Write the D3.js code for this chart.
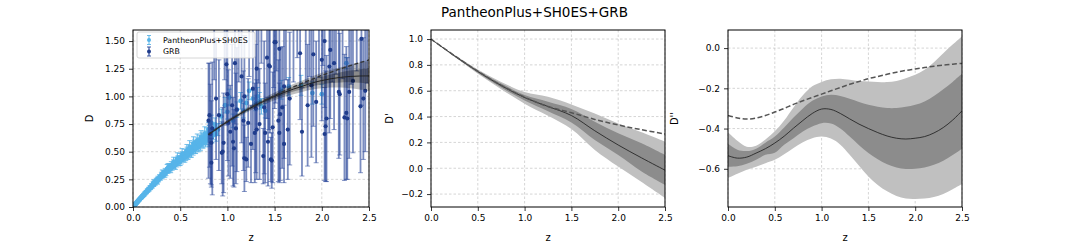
<!DOCTYPE html>
<html>
<head>
<meta charset="utf-8">
<script src="https://cdn.jsdelivr.net/npm/d3@7"></script>
<style>
  body { margin: 0; background: #fff; }
  svg { display: block; font-family: "DejaVu Sans", sans-serif; }
  .grid line { stroke: #b8b8b8; stroke-width: 0.6; stroke-dasharray: 2.5,2; }
</style>
</head>
<body>
<svg id="chart" width="1069" height="247"></svg>
<script>
// ---- Pantheon+ & SH0ES points (z, D, error)
const pantheonZ = [
  0.010,0.012,0.015,0.018,0.020,0.023,0.025,0.028,0.030,0.033,
  0.036,0.040,0.043,0.047,0.050,0.054,0.058,0.062,0.066,0.070,
  0.075,0.080,0.085,0.090,0.095,0.100,0.106,0.112,0.118,0.124,
  0.130,0.137,0.144,0.151,0.158,0.165,0.172,0.180,0.188,0.196,
  0.204,0.212,0.220,0.228,0.236,0.245,0.254,0.263,0.272,0.281,
  0.290,0.300,0.310,0.320,0.330,0.340,0.350,0.361,0.372,0.383,
  0.394,0.405,0.416,0.428,0.440,0.452,0.464,0.476,0.488,0.500,
  0.512,0.524,0.536,0.548,0.560,0.573,0.586,0.599,0.612,0.625,
  0.638,0.651,0.664,0.677,0.690,0.703,0.716,0.729,0.742,0.755,
  0.768,0.781,0.794,0.807,0.820,0.835,0.850,0.870,0.900,0.935,
  0.975,1.000,1.020,1.060,1.100,1.140,1.170,1.200,1.230,1.270,
  1.300,1.320,1.340,1.360,1.400,1.570,1.650,1.780,1.900,2.000,
  2.260,
  0.22,0.26,0.31,0.34,0.37,0.40,0.43,0.45,0.47,0.50,
  0.52,0.55,0.57,0.58,0.60,0.62,0.64,0.66,0.68,0.70,
  0.72,0.74,0.76,0.78,0.80,0.81,0.83,0.84,0.86,0.88];
const pantheonD = [
  0.010,0.013,0.014,0.019,0.021,0.022,0.027,0.026,0.031,0.034,
  0.033,0.041,0.045,0.044,0.052,0.051,0.060,0.059,0.068,0.066,
  0.076,0.081,0.080,0.091,0.089,0.101,0.099,0.112,0.109,0.124,
  0.122,0.137,0.133,0.150,0.146,0.163,0.158,0.178,0.172,0.194,
  0.186,0.210,0.203,0.226,0.214,0.240,0.231,0.257,0.247,0.271,
  0.262,0.290,0.276,0.306,0.293,0.322,0.309,0.344,0.331,0.362,
  0.344,0.379,0.360,0.394,0.374,0.411,0.392,0.428,0.405,0.447,
  0.421,0.462,0.441,0.482,0.455,0.500,0.470,0.519,0.486,0.540,
  0.508,0.560,0.523,0.578,0.540,0.602,0.556,0.620,0.575,0.636,
  0.590,0.664,0.612,0.682,0.630,0.700,0.662,0.745,0.700,0.820,
  0.920,0.860,0.990,0.780,0.880,0.960,0.870,0.940,1.050,0.980,
  0.940,1.000,0.960,0.910,0.870,1.060,1.090,1.100,1.030,1.020,
  1.300,
  0.215,0.236,0.300,0.300,0.352,0.345,0.405,0.380,0.440,0.420,
  0.478,0.450,0.510,0.480,0.540,0.500,0.575,0.540,0.600,0.560,
  0.630,0.600,0.660,0.620,0.700,0.600,0.760,0.640,0.700,0.660];
const pantheonErr = [
  0.004,0.004,0.005,0.005,0.005,0.005,0.006,0.005,0.006,0.006,
  0.006,0.006,0.007,0.006,0.007,0.007,0.008,0.007,0.008,0.008,
  0.008,0.009,0.009,0.010,0.009,0.010,0.011,0.011,0.012,0.012,
  0.012,0.013,0.013,0.014,0.013,0.015,0.014,0.016,0.015,0.017,
  0.016,0.018,0.017,0.019,0.018,0.020,0.019,0.021,0.020,0.022,
  0.021,0.024,0.022,0.025,0.023,0.027,0.025,0.040,0.026,0.030,
  0.027,0.031,0.028,0.032,0.029,0.034,0.030,0.035,0.031,0.037,
  0.032,0.038,0.034,0.040,0.035,0.041,0.036,0.042,0.037,0.044,
  0.039,0.045,0.040,0.047,0.042,0.048,0.043,0.050,0.044,0.051,
  0.046,0.052,0.047,0.055,0.048,0.058,0.050,0.060,0.055,0.065,
  0.070,0.065,0.075,0.060,0.070,0.075,0.065,0.070,0.080,0.075,
  0.070,0.080,0.075,0.070,0.065,0.085,0.080,0.090,0.100,0.090,
  0.050,
  0.030,0.030,0.035,0.030,0.040,0.035,0.045,0.040,0.050,0.045,
  0.050,0.045,0.055,0.050,0.060,0.050,0.060,0.055,0.060,0.055,
  0.060,0.060,0.065,0.060,0.065,0.055,0.070,0.060,0.060,0.065];

// ---- GRB points (z, D, error)
const grbZ = [
  0.80,0.81,0.82,0.83,0.83,0.84,0.86,0.88,0.91,0.94,
  0.95,0.96,0.97,0.99,1.00,1.01,1.03,1.05,1.06,1.07,
  1.08,1.09,1.10,1.12,1.15,1.17,1.18,1.18,1.20,1.22,
  1.23,1.25,1.27,1.29,1.30,1.31,1.31,1.33,1.34,1.36,
  1.38,1.39,1.40,1.42,1.43,1.44,1.45,1.46,1.47,1.48,
  1.49,1.50,1.51,1.52,1.54,1.55,1.55,1.56,1.58,1.60,
  1.60,1.62,1.64,1.66,1.70,1.74,1.77,1.79,1.83,1.85,
  1.87,1.89,1.91,1.94,1.97,2.00,2.01,2.03,2.03,2.04,
  2.05,2.08,2.09,2.11,2.13,2.15,2.18,2.19,2.22,2.24,
  2.26,2.27,2.29,2.31,2.33,2.37,2.41,2.42,2.44,2.46,
  2.48];
const grbD = [
  0.78,0.83,0.66,0.58,0.40,0.71,1.70,0.98,0.83,0.49,
  0.50,0.58,1.75,1.29,1.02,0.76,0.68,0.92,0.59,0.53,
  1.30,0.71,0.88,1.68,1.18,0.78,1.00,0.44,0.43,0.76,
  1.80,0.57,1.07,0.67,0.89,1.25,0.70,1.72,0.75,1.90,
  0.46,0.90,0.67,1.35,0.59,1.28,1.27,0.43,0.42,0.72,
  1.66,1.49,1.49,1.85,0.78,1.43,0.67,0.84,0.90,1.09,
  0.57,1.75,0.70,0.98,1.68,1.95,1.39,0.68,1.70,0.92,
  1.78,1.10,1.38,0.95,1.72,1.33,1.90,1.50,0.66,0.73,
  0.80,1.27,1.42,1.68,1.30,1.80,1.04,1.02,1.74,0.81,
  0.85,0.80,1.04,1.66,1.14,1.85,0.91,1.52,0.98,1.05,
  1.70];
const grbErr = [
  0.52,0.47,0.45,0.38,0.22,0.60,0.55,0.55,0.50,0.28,
  0.40,0.45,0.60,0.55,0.60,0.48,0.42,0.55,0.40,0.35,
  0.55,0.50,0.56,0.55,0.60,0.45,0.55,0.30,0.20,0.40,
  0.62,0.35,0.55,0.45,0.58,0.55,0.45,0.60,0.50,0.60,
  0.25,0.60,0.45,0.55,0.40,0.58,0.60,0.20,0.25,0.50,
  0.58,0.60,0.55,0.62,0.55,0.60,0.45,0.60,0.55,0.65,
  0.35,0.60,0.45,0.60,0.55,0.60,0.60,0.40,0.58,0.55,
  0.60,0.65,0.65,0.55,0.55,0.55,0.62,0.60,0.42,0.50,
  0.57,0.60,0.62,0.55,0.60,0.60,0.60,0.55,0.58,0.57,
  0.60,0.55,0.60,0.55,0.65,0.62,0.60,0.60,0.55,0.55,
  0.58];

// ---- reconstruction of D(z), from z = 0.8
const dZ = [0.8,0.9,1.0,1.1,1.2,1.3,1.4,1.5,1.6,1.7,1.8,1.9,2.0,2.1,2.2,2.3,2.4,2.5];
const dMean = [0.655,0.715,0.772,0.825,0.874,0.920,0.962,1.000,1.035,1.066,1.093,1.122,1.143,1.160,1.172,1.180,1.184,1.185];
const dLcdm = [0.655,0.715,0.772,0.825,0.875,0.922,0.966,1.008,1.048,1.086,1.122,1.156,1.189,1.220,1.249,1.277,1.304,1.330];
const dSig1 = [0.005,0.006,0.008,0.009,0.011,0.013,0.015,0.017,0.020,0.023,0.026,0.030,0.035,0.040,0.046,0.053,0.061,0.070];
const dSig2 = [0.010,0.012,0.016,0.018,0.022,0.026,0.030,0.034,0.040,0.046,0.052,0.060,0.070,0.080,0.092,0.106,0.122,0.135];

// ---- D'(z)
const d1Z = [0,0.25,0.5,0.75,1.0,1.25,1.5,1.75,2.0,2.25,2.5];
const d1Mean = [1.0,0.870,0.748,0.640,0.547,0.478,0.408,0.290,0.180,0.080,-0.015];
const d1Lcdm = [1.0,0.872,0.751,0.642,0.550,0.478,0.430,0.378,0.335,0.298,0.265];
const d1Lo1 = [1.0,0.866,0.740,0.625,0.525,0.442,0.355,0.219,0.103,-0.025,-0.128];
const d1Hi1 = [1.0,0.874,0.756,0.655,0.566,0.514,0.458,0.360,0.270,0.193,0.103];
const d1Lo2 = [1.0,0.862,0.732,0.612,0.500,0.406,0.304,0.142,0.013,-0.107,-0.230];
const d1Hi2 = [1.0,0.878,0.764,0.668,0.590,0.553,0.494,0.424,0.347,0.278,0.206];

// ---- D''(z)
const d2Z = [0,0.1,0.2,0.3,0.4,0.5,0.6,0.7,0.8,0.9,1.0,1.1,1.2,1.3,1.4,1.5,1.6,1.7,1.8,1.9,2.0,2.1,2.2,2.3,2.4,2.5];
const d2Mean = [-0.535,-0.547,-0.542,-0.522,-0.500,-0.472,-0.438,-0.398,-0.360,-0.325,-0.303,-0.305,-0.325,-0.352,-0.378,-0.400,-0.420,-0.437,-0.448,-0.452,-0.448,-0.440,-0.422,-0.395,-0.358,-0.312];
const d2Lcdm = [-0.335,-0.347,-0.353,-0.348,-0.335,-0.318,-0.300,-0.280,-0.262,-0.245,-0.229,-0.212,-0.196,-0.180,-0.166,-0.152,-0.141,-0.130,-0.120,-0.111,-0.104,-0.097,-0.090,-0.085,-0.080,-0.076];
const d2Hi1 = [-0.476,-0.505,-0.512,-0.500,-0.470,-0.440,-0.395,-0.345,-0.300,-0.262,-0.240,-0.232,-0.238,-0.252,-0.268,-0.282,-0.292,-0.298,-0.298,-0.292,-0.282,-0.265,-0.238,-0.205,-0.168,-0.128];
const d2Lo1 = [-0.590,-0.588,-0.575,-0.555,-0.530,-0.520,-0.480,-0.448,-0.415,-0.390,-0.373,-0.375,-0.400,-0.440,-0.483,-0.522,-0.553,-0.578,-0.594,-0.601,-0.600,-0.594,-0.580,-0.560,-0.532,-0.500];
const d2Hi2 = [-0.418,-0.460,-0.490,-0.485,-0.455,-0.414,-0.360,-0.295,-0.235,-0.190,-0.168,-0.155,-0.152,-0.157,-0.163,-0.166,-0.168,-0.169,-0.163,-0.150,-0.133,-0.108,-0.070,-0.025,0.018,0.058];
const d2Lo2 = [-0.646,-0.625,-0.605,-0.590,-0.572,-0.555,-0.528,-0.497,-0.468,-0.448,-0.440,-0.450,-0.480,-0.530,-0.585,-0.638,-0.680,-0.712,-0.735,-0.748,-0.750,-0.748,-0.740,-0.725,-0.702,-0.676];

const zTicks = [0, 0.5, 1.0, 1.5, 2.0, 2.5];

const svg = d3.select('#chart');
const plotTop = 30, plotBottom = 207;

svg.append('text')
  .attr('x', 534.5).attr('y', 17)
  .attr('text-anchor', 'middle')
  .attr('font-size', 13.5)
  .text('PantheonPlus+SH0ES+GRB');

// sets up one subplot: scales, grid, axes; returns the clipped plot group
function makePanel(cfg) {
  const x = d3.scaleLinear().domain([0, 2.5]).range([cfg.left, cfg.right]);
  const y = d3.scaleLinear().domain(cfg.yDomain).range([plotBottom, plotTop]);
  const g = svg.append('g');

  svg.append('clipPath').attr('id', 'clip-' + cfg.id)
    .append('rect')
      .attr('x', cfg.left).attr('y', plotTop)
      .attr('width', cfg.right - cfg.left).attr('height', plotBottom - plotTop);

  const grid = g.append('g').attr('class', 'grid');
  grid.selectAll('.gx').data(zTicks).join('line').attr('class', 'gx')
    .attr('x1', d => x(d)).attr('x2', d => x(d))
    .attr('y1', plotTop).attr('y2', plotBottom);
  grid.selectAll('.gy').data(cfg.yTicks).join('line').attr('class', 'gy')
    .attr('x1', cfg.left).attr('x2', cfg.right)
    .attr('y1', d => y(d)).attr('y2', d => y(d));

  const plot = g.append('g').attr('clip-path', `url(#clip-${cfg.id})`);

  const xAxis = svg.append('g')
    .attr('transform', `translate(0,${plotBottom})`)
    .call(d3.axisBottom(x).tickValues(zTicks).tickFormat(d3.format('.1f'))
      .tickSize(4).tickPadding(4).tickSizeOuter(0));
  const yAxis = svg.append('g')
    .attr('transform', `translate(${cfg.left},0)`)
    .call(d3.axisLeft(y).tickValues(cfg.yTicks).tickFormat(d3.format(cfg.yFormat))
      .tickSize(4).tickPadding(4).tickSizeOuter(0));
  [xAxis, yAxis].forEach(a => {
    a.attr('font-size', 9).attr('font-family', '"DejaVu Sans", sans-serif');
    a.select('.domain').remove();
    a.selectAll('.tick line').attr('stroke', '#000').attr('stroke-width', 0.8);
    a.selectAll('text').attr('fill', '#000');
  });

  svg.append('text')
    .attr('x', (cfg.left + cfg.right) / 2).attr('y', 241)
    .attr('text-anchor', 'middle').attr('font-size', 10)
    .text('z');
  svg.append('text')
    .attr('transform', `translate(${cfg.left - cfg.labelOffset},${(plotTop + plotBottom) / 2}) rotate(-90)`)
    .attr('text-anchor', 'middle').attr('font-size', 10)
    .text(cfg.yLabel);

  return { x, y, plot, cfg };
}

function frame(p) {
  svg.append('rect')
    .attr('x', p.cfg.left).attr('y', plotTop)
    .attr('width', p.cfg.right - p.cfg.left).attr('height', plotBottom - plotTop)
    .attr('fill', 'none').attr('stroke', '#000').attr('stroke-width', 1);
}

function band(p, zs, lo, hi, fill, opacity) {
  const area = d3.area()
    .x((d, i) => p.x(zs[i]))
    .y0((d, i) => p.y(lo[i]))
    .y1((d, i) => p.y(hi[i]))
    .curve(d3.curveCatmullRom);
  p.plot.append('path').datum(zs)
    .attr('d', area).attr('fill', fill).attr('fill-opacity', opacity);
}

function curve(p, zs, vals, stroke, width, dash) {
  const line = d3.line()
    .x((d, i) => p.x(zs[i]))
    .y((d, i) => p.y(vals[i]))
    .curve(d3.curveCatmullRom);
  p.plot.append('path').datum(zs)
    .attr('d', line).attr('fill', 'none')
    .attr('stroke', stroke).attr('stroke-width', width)
    .attr('stroke-dasharray', dash || null);
}

function errorbars(p, zs, vals, errs, style) {
  const grp = p.plot.append('g');
  const idx = d3.range(zs.length);
  grp.selectAll('.bar').data(idx).join('line').attr('class', 'bar')
    .attr('x1', i => p.x(zs[i])).attr('x2', i => p.x(zs[i]))
    .attr('y1', i => p.y(vals[i] - errs[i])).attr('y2', i => p.y(vals[i] + errs[i]))
    .attr('stroke', style.bar).attr('stroke-width', style.barWidth)
    .attr('stroke-opacity', style.barOpacity);
  [-1, 1].forEach(s => {
    grp.selectAll('.cap' + (s + 1)).data(idx).join('line').attr('class', 'cap' + (s + 1))
      .attr('x1', i => p.x(zs[i]) - style.cap).attr('x2', i => p.x(zs[i]) + style.cap)
      .attr('y1', i => p.y(vals[i] + s * errs[i])).attr('y2', i => p.y(vals[i] + s * errs[i]))
      .attr('stroke', style.bar).attr('stroke-width', 0.9)
      .attr('stroke-opacity', style.barOpacity);
  });
  grp.selectAll('circle').data(idx).join('circle')
    .attr('cx', i => p.x(zs[i])).attr('cy', i => p.y(vals[i]))
    .attr('r', style.r).attr('fill', style.dot);
}

const pantheonStyle = { bar: '#5ab4e6', barWidth: 1.1, barOpacity: 0.9, cap: 2.4, r: 2.4, dot: '#56b4e9' };
const grbStyle = { bar: '#2a4799', barWidth: 1.8, barOpacity: 0.62, cap: 2.5, r: 2.1, dot: '#1f3c8c' };

// ---- panel 1: D
const p1 = makePanel({ id: 'd', left: 133, right: 369, yDomain: [0, 1.6],
  yTicks: [0, 0.25, 0.5, 0.75, 1.0, 1.25, 1.5], yFormat: '.2f', yLabel: 'D', labelOffset: 40 });
errorbars(p1, pantheonZ, pantheonD, pantheonErr, pantheonStyle);
errorbars(p1, grbZ, grbD, grbErr, grbStyle);
band(p1, dZ, dMean.map((m, i) => m - dSig2[i]), dMean.map((m, i) => m + dSig2[i]), '#000', 0.25);
band(p1, dZ, dMean.map((m, i) => m - dSig1[i]), dMean.map((m, i) => m + dSig1[i]), '#000', 0.28);
curve(p1, dZ, dMean, '#222', 1);
curve(p1, dZ, dLcdm, '#333', 1.3, '4,2.5');
frame(p1);

// legend
const leg = svg.append('g');
leg.append('rect').attr('x', 137).attr('y', 32).attr('width', 118).attr('height', 26)
  .attr('fill', '#fff').attr('fill-opacity', 0.85).attr('stroke', '#ccc').attr('stroke-width', 0.8).attr('rx', 2);
[['PantheonPlus+SH0ES', pantheonStyle, 40], ['GRB', grbStyle, 51.5]].forEach(([label, st, ly]) => {
  leg.append('line').attr('x1', 149).attr('x2', 149).attr('y1', ly - 4.5).attr('y2', ly + 4.5)
    .attr('stroke', st.bar).attr('stroke-width', st.barWidth).attr('stroke-opacity', st.barOpacity);
  [-4.5, 4.5].forEach(o => leg.append('line').attr('x1', 147).attr('x2', 151)
    .attr('y1', ly + o).attr('y2', ly + o).attr('stroke', st.bar).attr('stroke-width', 0.9));
  leg.append('circle').attr('cx', 149).attr('cy', ly).attr('r', 2).attr('fill', st.dot);
  leg.append('text').attr('x', 163).attr('y', ly + 2.8).attr('font-size', 7.8).text(label);
});

// ---- panel 2: D'
const p2 = makePanel({ id: 'd1', left: 431, right: 665, yDomain: [-0.3, 1.07],
  yTicks: [-0.2, 0, 0.2, 0.4, 0.6, 0.8, 1.0], yFormat: '.1f', yLabel: "D'", labelOffset: 38 });
band(p2, d1Z, d1Lo2, d1Hi2, '#c0c0c0', 1);
band(p2, d1Z, d1Lo1, d1Hi1, '#8c8c8c', 1);
curve(p2, d1Z, d1Mean, '#1a1a1a', 0.8);
curve(p2, d1Z, d1Lcdm, '#555', 1.5, '5,2.5');
frame(p2);

// ---- panel 3: D''
const p3 = makePanel({ id: 'd2', left: 728, right: 962, yDomain: [-0.79, 0.09],
  yTicks: [-0.6, -0.4, -0.2, 0], yFormat: '.1f', yLabel: "D''", labelOffset: 50 });
band(p3, d2Z, d2Lo2, d2Hi2, '#c0c0c0', 1);
band(p3, d2Z, d2Lo1, d2Hi1, '#8c8c8c', 1);
curve(p3, d2Z, d2Mean, '#1a1a1a', 0.8);
curve(p3, d2Z, d2Lcdm, '#555', 1.5, '5,2.5');
frame(p3);
</script>
</body>
</html>
